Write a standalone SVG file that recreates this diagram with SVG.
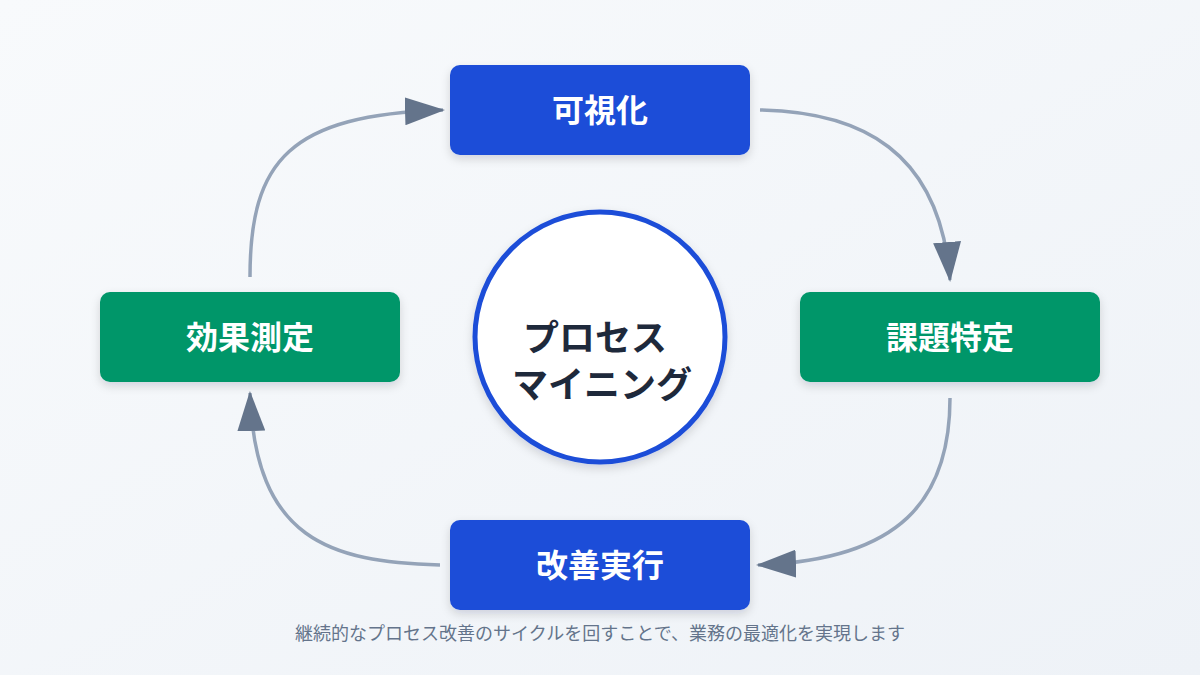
<svg xmlns="http://www.w3.org/2000/svg" width="1200" height="675" viewBox="0 0 1200 675">
<defs>
<linearGradient id="bg" x1="0" y1="0" x2="1" y2="1"><stop offset="0" stop-color="#f8fafc"/><stop offset="1" stop-color="#eef2f7"/></linearGradient>
<marker id="ah" viewBox="0 0 40 28" refX="38" refY="14" markerWidth="40" markerHeight="28" markerUnits="userSpaceOnUse" orient="auto"><path d="M0,0 L40,14 L0,28 Z" fill="#64748b"/></marker>
<filter id="sh" x="-20%" y="-20%" width="140%" height="150%"><feDropShadow dx="0" dy="4" stdDeviation="5" flood-color="#0f172a" flood-opacity="0.15"/></filter>
<style>
.lbl{font-family:"Noto Sans CJK JP","Noto Sans",sans-serif;font-weight:700;font-size:32px;fill:#fff;text-anchor:middle}
.c{fill:none;stroke:#94a3b8;stroke-width:3.5;marker-end:url(#ah)}
.ct{font-family:"Noto Sans CJK JP",sans-serif;font-weight:700;font-size:36px;fill:#1e293b;text-anchor:middle}
</style>
</defs>
<rect width="1200" height="675" fill="url(#bg)"/>
<g id="connectors">
<path class="c" d="M760,110 C860,112 940,150 950,280"/>
<path class="c" d="M950,398 C950,500 900,560 758,565"/>
<path class="c" d="M440,565 C330,562 255,540 250,393"/>
<path class="c" d="M250,277 C250,160 290,115 443,110"/>
</g>
<g id="center"><circle cx="600" cy="337" r="125" fill="#fff" stroke="#1d4ed8" stroke-width="5" filter="url(#sh)"/>
<text class="ct" x="595" y="351">プロセス</text>
<text class="ct" x="602" y="398">マイニング</text></g>
<g id="n1"><rect x="450" y="65" width="300" height="90" rx="10" fill="#1d4ed8" filter="url(#sh)"/><text class="lbl" x="600" y="122">可視化</text></g>
<g id="n2"><rect x="800" y="292" width="300" height="90" rx="10" fill="#059669" filter="url(#sh)"/><text class="lbl" x="950" y="349">課題特定</text></g>
<g id="n3"><rect x="450" y="520" width="300" height="90" rx="10" fill="#1d4ed8" filter="url(#sh)"/><text class="lbl" x="600" y="577">改善実行</text></g>
<g id="n4"><rect x="100" y="292" width="300" height="90" rx="10" fill="#059669" filter="url(#sh)"/><text class="lbl" x="250" y="349">効果測定</text></g>
<text x="600" y="640" font-family="'Noto Sans CJK JP',sans-serif" font-size="18" fill="#64748b" text-anchor="middle">継続的なプロセス改善のサイクルを回すことで、業務の最適化を実現します</text>
</svg>
